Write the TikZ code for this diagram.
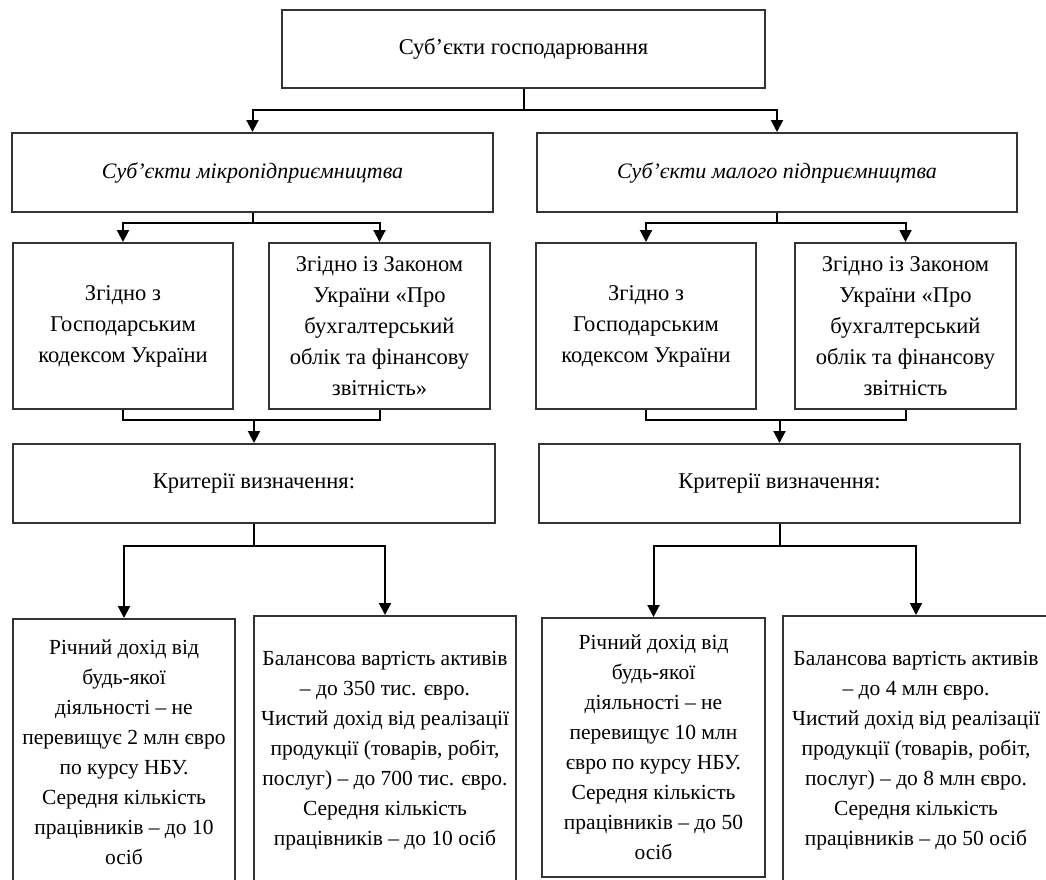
\documentclass[tikz,border=0pt]{standalone}
\usepackage{fontspec}
\setmainfont{Liberation Serif}
\usetikzlibrary{arrows.meta}
\begin{document}
\begin{tikzpicture}[x=1pt,y=-1pt,
  box/.style={draw=black!80, line width=2pt, rectangle, inner sep=0pt, align=center,
    font=\fontsize{22.5}{31}\selectfont},
  lowbox/.style={box, font=\fontsize{21.5}{30}\selectfont},
  arr/.style={-{Triangle[length=12pt,width=12pt]}, line width=2pt, draw=black},
  ln/.style={line width=2pt, draw=black}]
\useasboundingbox (0,0) rectangle (1046,879);
\clip (0,0) rectangle (1046,879);
% level 1
\node[box, minimum width=483pt, minimum height=78pt] (top) at (523.5,49) {Суб'єкти господарювання};
% level 2
\node[box, minimum width=481pt, minimum height=79pt, font=\fontsize{22}{30}\selectfont\itshape] (mL) at (252.5,172.5) {Суб'єкти мікропідприємництва};
\node[box, minimum width=480pt, minimum height=79pt, font=\fontsize{22}{30}\selectfont\itshape] (mR) at (777,172.5) {Суб'єкти малого підприємництва};
% level 3
\node[box, minimum width=220pt, minimum height=166pt] (gA) at (123,326) {Згідно з\\Господарським\\кодексом України};
\node[box, minimum width=221pt, minimum height=166pt] (gB) at (379.5,326) {Згідно із Законом\\України «Про\\бухгалтерський\\облік та фінансову\\звітність»};
\node[box, minimum width=220pt, minimum height=166pt] (gC) at (646,326) {Згідно з\\Господарським\\кодексом України};
\node[box, minimum width=221pt, minimum height=166pt] (gD) at (905.5,326) {Згідно із Законом\\України «Про\\бухгалтерський\\облік та фінансову\\звітність};
% criteria
\node[box, minimum width=482pt, minimum height=79pt] (crL) at (254,483.5) {Критерії визначення:};
\node[box, minimum width=481pt, minimum height=79pt] (crR) at (779.5,483.5) {Критерії визначення:};
% bottom
\node[lowbox, minimum width=222pt, minimum height=266pt] (bA) at (124,752) {Річний дохід від\\будь-якої\\діяльності – не\\перевищує 2 млн євро\\по курсу НБУ.\\Середня кількість\\працівників – до 10\\осіб};
\node[lowbox, minimum width=262pt, minimum height=269pt] (bB) at (385,750.5) {Балансова вартість активів\\– до 350 тис. євро.\\Чистий дохід від реалізації\\продукції (товарів, робіт,\\послуг) – до 700 тис. євро.\\Середня кількість\\працівників – до 10 осіб};
\node[lowbox, minimum width=223pt, minimum height=259pt] (bC) at (653.5,747.5) {Річний дохід від\\будь-якої\\діяльності – не\\перевищує 10 млн\\євро по курсу НБУ.\\Середня кількість\\працівників – до 50\\осіб};
\node[lowbox, minimum width=266pt, minimum height=269pt] (bD) at (916,750.5) {Балансова вартість активів\\– до 4 млн євро.\\Чистий дохід від реалізації\\продукції (товарів, робіт,\\послуг) – до 8 млн євро.\\Середня кількість\\працівників – до 50 осіб};
% connectors level 1 -> 2
\coordinate (j1) at (523.5,110);
\draw[ln] (top.south) -- (j1);
\draw[arr] (j1) -| (mL.north);
\draw[arr] (j1) -| (mR.north);
% level 2 -> 3
\coordinate (j2) at (252.5,223);
\coordinate (j3) at (777,223);
\draw[ln] (mL.south) -- (j2);
\draw[arr] (j2) -| (gA.north);
\draw[arr] (j2) -| (gB.north);
\draw[ln] (mR.south) -- (j3);
\draw[arr] (j3) -| (gC.north);
\draw[arr] (j3) -| (gD.north);
% level 3 -> criteria
\coordinate (k1) at (254,420);
\coordinate (k2) at (779.5,420);
\draw[ln] (gA.south) |- (k1);
\draw[ln] (gB.south) |- (k1);
\draw[arr] (k1) -- (crL.north);
\draw[ln] (gC.south) |- (k2);
\draw[ln] (gD.south) |- (k2);
\draw[arr] (k2) -- (crR.north);
% criteria -> bottom
\coordinate (s1) at (254,546);
\coordinate (s2) at (779.5,546);
\draw[ln] (crL.south) -- (s1);
\draw[arr] (s1) -| (bA.north);
\draw[arr] (s1) -| (bB.north);
\draw[ln] (crR.south) -- (s2);
\draw[arr] (s2) -| (bC.north);
\draw[arr] (s2) -| (bD.north);
\end{tikzpicture}
\end{document}
